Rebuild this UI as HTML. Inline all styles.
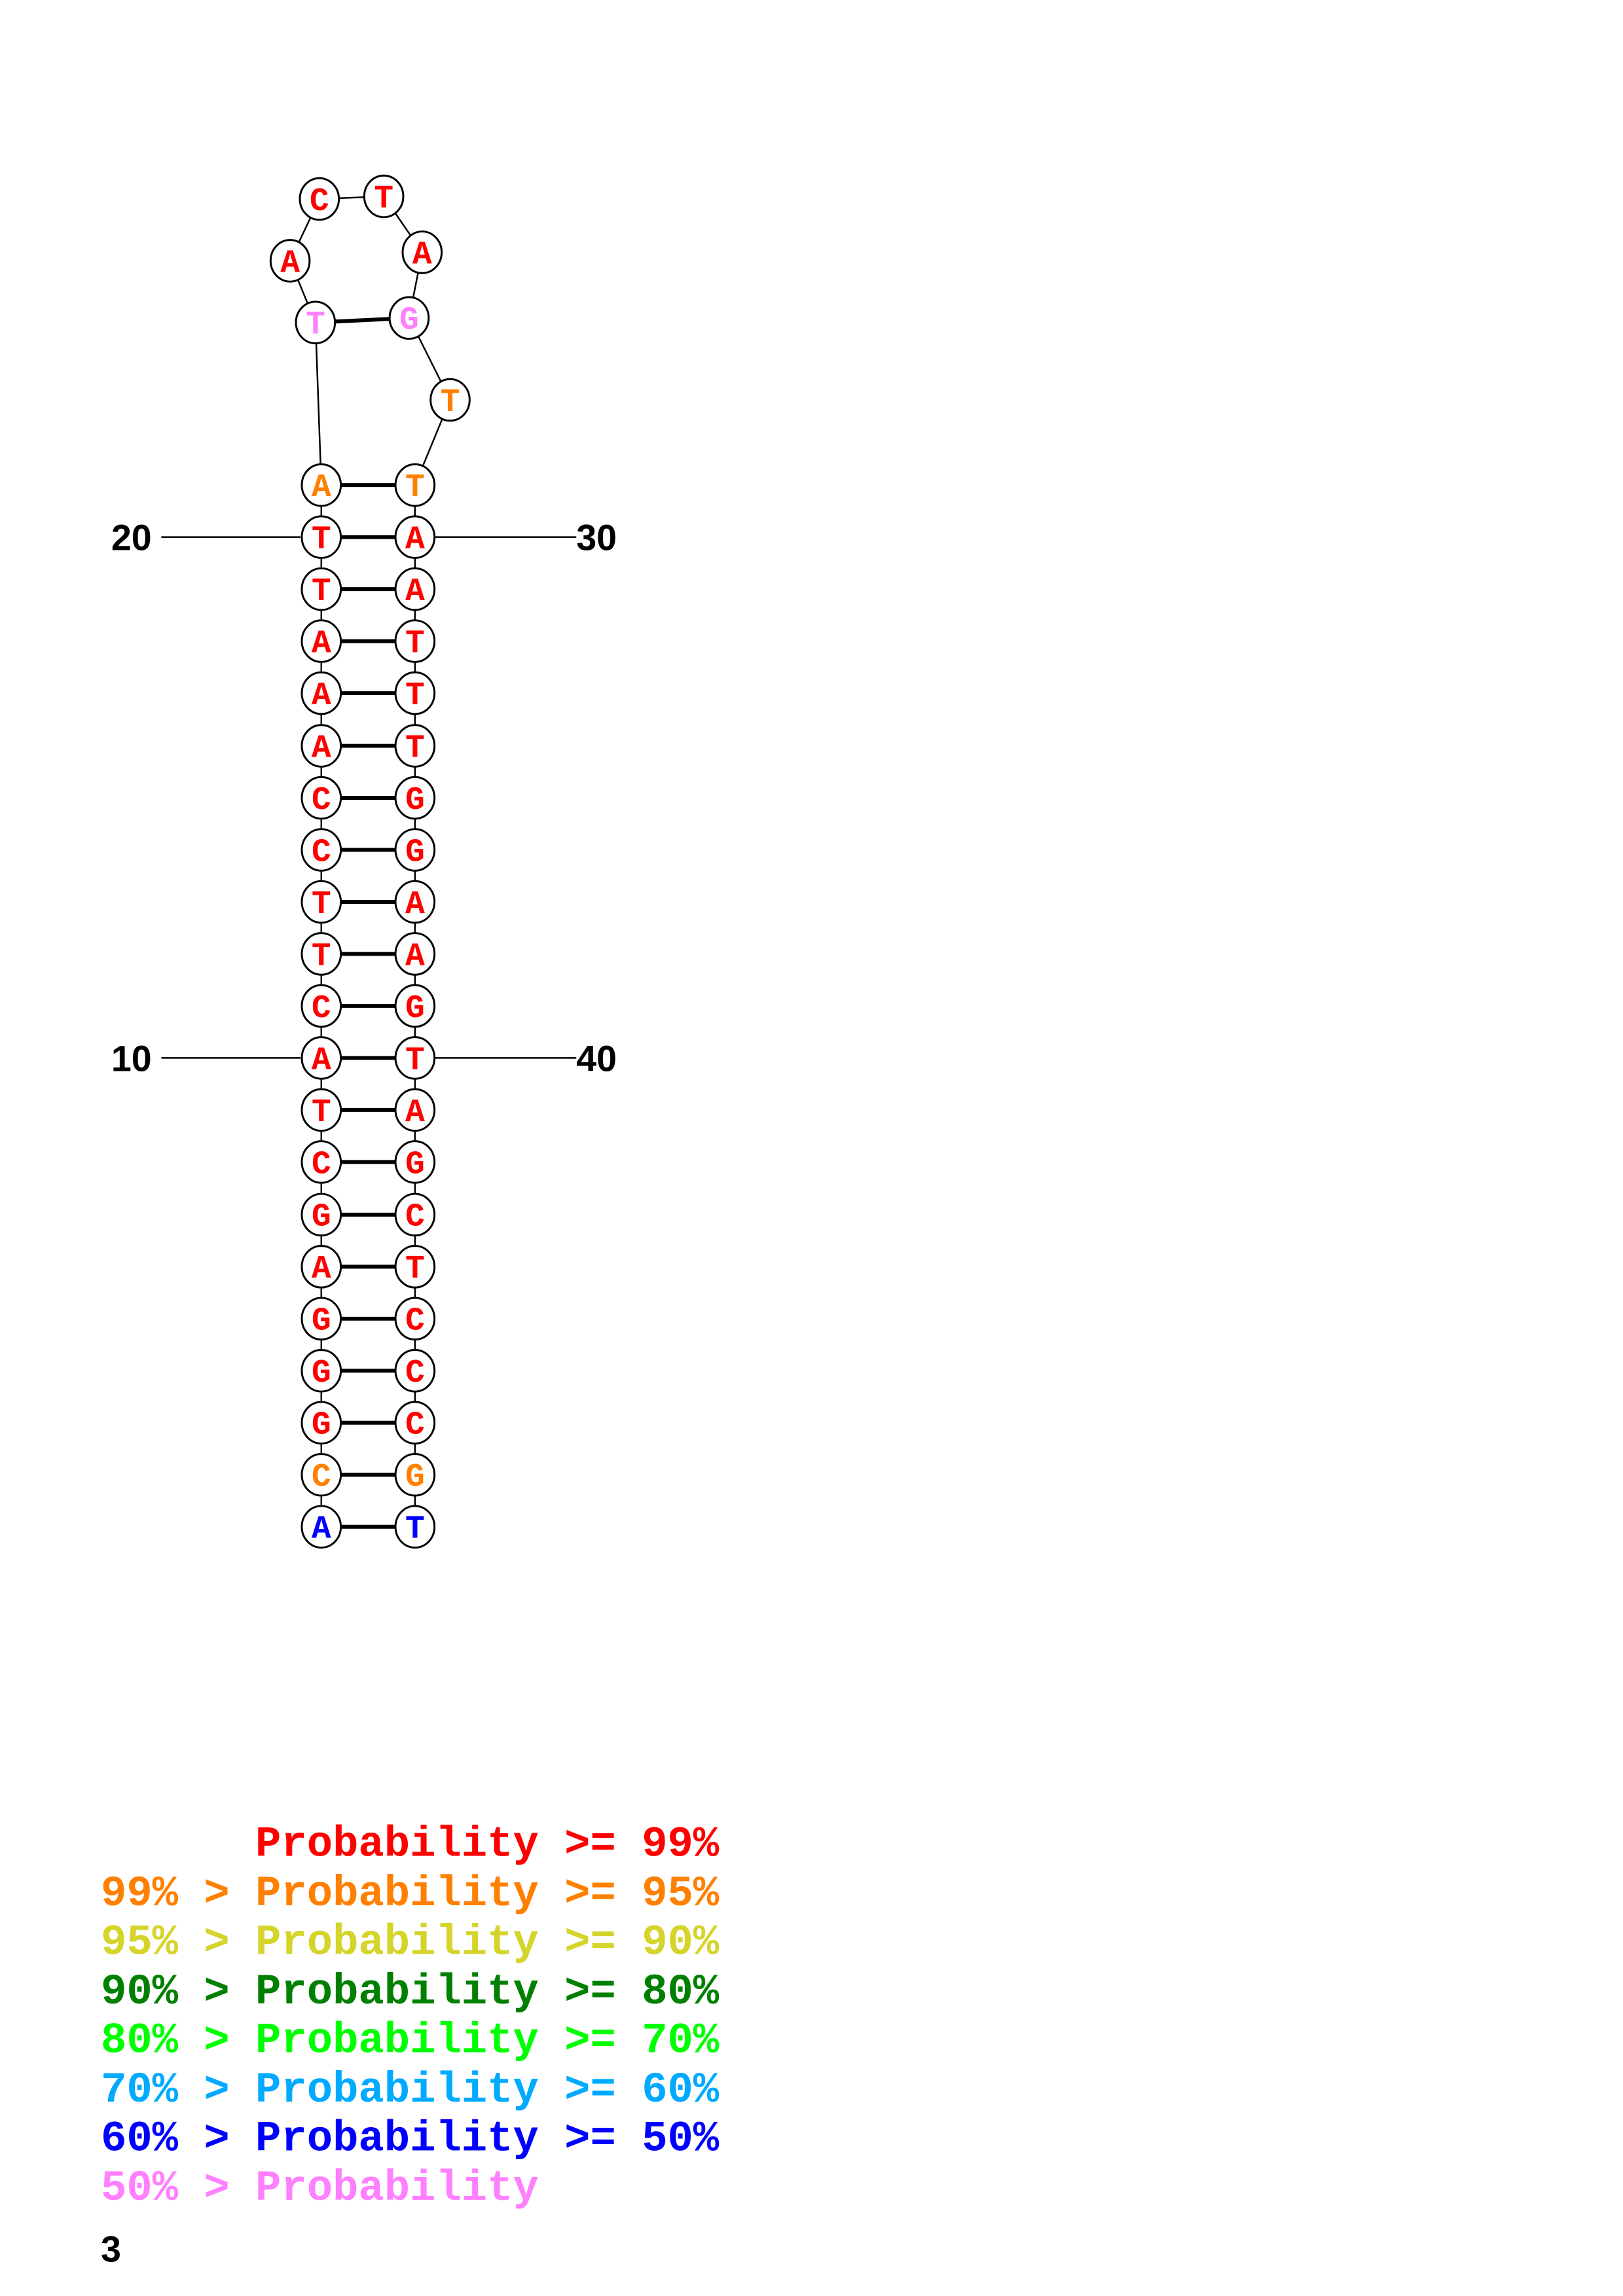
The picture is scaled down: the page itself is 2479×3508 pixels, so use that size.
<!DOCTYPE html>
<html><head><meta charset="utf-8"><style>
html,body{margin:0;padding:0;background:#fff;}
svg{display:block;}
.n{fill:#fff;stroke:#000;stroke-width:3;}
.b{font-family:"Liberation Mono",monospace;font-weight:bold;font-size:50px;text-anchor:middle;}
.lg{font-family:"Liberation Mono",monospace;font-weight:bold;font-size:66px;white-space:pre;}
.num{font-family:"Liberation Sans",sans-serif;font-weight:bold;font-size:56px;}
</style></head><body>
<svg width="2479" height="3508" viewBox="0 0 2479 3508" xmlns="http://www.w3.org/2000/svg">
<g transform="scale(0.9935)">
<g stroke="#000" stroke-width="2.5" fill="none">
<line x1="248" y1="826" x2="462" y2="826"/>
<line x1="669" y1="826" x2="886" y2="826"/>
<line x1="248" y1="1627" x2="462" y2="1627"/>
<line x1="669" y1="1627" x2="886" y2="1627"/>
<line x1="494" y1="746" x2="494" y2="2348"/>
<line x1="638" y1="746" x2="638" y2="2348"/>
<polyline points="494,746 485,496 446,401 491,306 590,302 649,388 629,489 692,615 638,746"/>
</g>
<g stroke="#000" stroke-width="6">
<line x1="485" y1="496" x2="629" y2="489"/>
<line x1="494" y1="746" x2="638" y2="746"/><line x1="494" y1="826" x2="638" y2="826"/>
<line x1="494" y1="906" x2="638" y2="906"/><line x1="494" y1="986" x2="638" y2="986"/>
<line x1="494" y1="1066" x2="638" y2="1066"/><line x1="494" y1="1147" x2="638" y2="1147"/>
<line x1="494" y1="1227" x2="638" y2="1227"/><line x1="494" y1="1307" x2="638" y2="1307"/>
<line x1="494" y1="1387" x2="638" y2="1387"/><line x1="494" y1="1467" x2="638" y2="1467"/>
<line x1="494" y1="1547" x2="638" y2="1547"/><line x1="494" y1="1627" x2="638" y2="1627"/>
<line x1="494" y1="1707" x2="638" y2="1707"/><line x1="494" y1="1787" x2="638" y2="1787"/>
<line x1="494" y1="1868" x2="638" y2="1868"/><line x1="494" y1="1948" x2="638" y2="1948"/>
<line x1="494" y1="2028" x2="638" y2="2028"/><line x1="494" y1="2108" x2="638" y2="2108"/>
<line x1="494" y1="2188" x2="638" y2="2188"/><line x1="494" y1="2268" x2="638" y2="2268"/>
<line x1="494" y1="2348" x2="638" y2="2348"/>
</g>
<g>
<ellipse class="n" cx="491" cy="306" rx="30" ry="32"/><text class="b" x="491" y="323" fill="#f00">C</text>
<ellipse class="n" cx="590" cy="302" rx="30" ry="32"/><text class="b" x="590" y="319" fill="#f00">T</text>
<ellipse class="n" cx="446" cy="401" rx="30" ry="32"/><text class="b" x="446" y="418" fill="#f00">A</text>
<ellipse class="n" cx="649" cy="388" rx="30" ry="32"/><text class="b" x="649" y="405" fill="#f00">A</text>
<ellipse class="n" cx="485" cy="496" rx="30" ry="32"/><text class="b" x="485" y="513" fill="#ff80ff">T</text>
<ellipse class="n" cx="629" cy="489" rx="30" ry="32"/><text class="b" x="629" y="506" fill="#ff80ff">G</text>
<ellipse class="n" cx="692" cy="615" rx="30" ry="32"/><text class="b" x="692" y="632" fill="#ff8000">T</text>
</g>
<g>
<ellipse class="n" cx="494" cy="746" rx="30" ry="32"/><text class="b" x="494" y="763" fill="#ff8000">A</text>
<ellipse class="n" cx="494" cy="826" rx="30" ry="32"/><text class="b" x="494" y="843" fill="#f00">T</text>
<ellipse class="n" cx="494" cy="906" rx="30" ry="32"/><text class="b" x="494" y="923" fill="#f00">T</text>
<ellipse class="n" cx="494" cy="986" rx="30" ry="32"/><text class="b" x="494" y="1003" fill="#f00">A</text>
<ellipse class="n" cx="494" cy="1066" rx="30" ry="32"/><text class="b" x="494" y="1083" fill="#f00">A</text>
<ellipse class="n" cx="494" cy="1147" rx="30" ry="32"/><text class="b" x="494" y="1164" fill="#f00">A</text>
<ellipse class="n" cx="494" cy="1227" rx="30" ry="32"/><text class="b" x="494" y="1244" fill="#f00">C</text>
<ellipse class="n" cx="494" cy="1307" rx="30" ry="32"/><text class="b" x="494" y="1324" fill="#f00">C</text>
<ellipse class="n" cx="494" cy="1387" rx="30" ry="32"/><text class="b" x="494" y="1404" fill="#f00">T</text>
<ellipse class="n" cx="494" cy="1467" rx="30" ry="32"/><text class="b" x="494" y="1484" fill="#f00">T</text>
<ellipse class="n" cx="494" cy="1547" rx="30" ry="32"/><text class="b" x="494" y="1564" fill="#f00">C</text>
<ellipse class="n" cx="494" cy="1627" rx="30" ry="32"/><text class="b" x="494" y="1644" fill="#f00">A</text>
<ellipse class="n" cx="494" cy="1707" rx="30" ry="32"/><text class="b" x="494" y="1724" fill="#f00">T</text>
<ellipse class="n" cx="494" cy="1787" rx="30" ry="32"/><text class="b" x="494" y="1804" fill="#f00">C</text>
<ellipse class="n" cx="494" cy="1868" rx="30" ry="32"/><text class="b" x="494" y="1885" fill="#f00">G</text>
<ellipse class="n" cx="494" cy="1948" rx="30" ry="32"/><text class="b" x="494" y="1965" fill="#f00">A</text>
<ellipse class="n" cx="494" cy="2028" rx="30" ry="32"/><text class="b" x="494" y="2045" fill="#f00">G</text>
<ellipse class="n" cx="494" cy="2108" rx="30" ry="32"/><text class="b" x="494" y="2125" fill="#f00">G</text>
<ellipse class="n" cx="494" cy="2188" rx="30" ry="32"/><text class="b" x="494" y="2205" fill="#f00">G</text>
<ellipse class="n" cx="494" cy="2268" rx="30" ry="32"/><text class="b" x="494" y="2285" fill="#ff8000">C</text>
<ellipse class="n" cx="494" cy="2348" rx="30" ry="32"/><text class="b" x="494" y="2365" fill="#00f">A</text>
</g>
<g>
<ellipse class="n" cx="638" cy="746" rx="30" ry="32"/><text class="b" x="638" y="763" fill="#ff8000">T</text>
<ellipse class="n" cx="638" cy="826" rx="30" ry="32"/><text class="b" x="638" y="843" fill="#f00">A</text>
<ellipse class="n" cx="638" cy="906" rx="30" ry="32"/><text class="b" x="638" y="923" fill="#f00">A</text>
<ellipse class="n" cx="638" cy="986" rx="30" ry="32"/><text class="b" x="638" y="1003" fill="#f00">T</text>
<ellipse class="n" cx="638" cy="1066" rx="30" ry="32"/><text class="b" x="638" y="1083" fill="#f00">T</text>
<ellipse class="n" cx="638" cy="1147" rx="30" ry="32"/><text class="b" x="638" y="1164" fill="#f00">T</text>
<ellipse class="n" cx="638" cy="1227" rx="30" ry="32"/><text class="b" x="638" y="1244" fill="#f00">G</text>
<ellipse class="n" cx="638" cy="1307" rx="30" ry="32"/><text class="b" x="638" y="1324" fill="#f00">G</text>
<ellipse class="n" cx="638" cy="1387" rx="30" ry="32"/><text class="b" x="638" y="1404" fill="#f00">A</text>
<ellipse class="n" cx="638" cy="1467" rx="30" ry="32"/><text class="b" x="638" y="1484" fill="#f00">A</text>
<ellipse class="n" cx="638" cy="1547" rx="30" ry="32"/><text class="b" x="638" y="1564" fill="#f00">G</text>
<ellipse class="n" cx="638" cy="1627" rx="30" ry="32"/><text class="b" x="638" y="1644" fill="#f00">T</text>
<ellipse class="n" cx="638" cy="1707" rx="30" ry="32"/><text class="b" x="638" y="1724" fill="#f00">A</text>
<ellipse class="n" cx="638" cy="1787" rx="30" ry="32"/><text class="b" x="638" y="1804" fill="#f00">G</text>
<ellipse class="n" cx="638" cy="1868" rx="30" ry="32"/><text class="b" x="638" y="1885" fill="#f00">C</text>
<ellipse class="n" cx="638" cy="1948" rx="30" ry="32"/><text class="b" x="638" y="1965" fill="#f00">T</text>
<ellipse class="n" cx="638" cy="2028" rx="30" ry="32"/><text class="b" x="638" y="2045" fill="#f00">C</text>
<ellipse class="n" cx="638" cy="2108" rx="30" ry="32"/><text class="b" x="638" y="2125" fill="#f00">C</text>
<ellipse class="n" cx="638" cy="2188" rx="30" ry="32"/><text class="b" x="638" y="2205" fill="#f00">C</text>
<ellipse class="n" cx="638" cy="2268" rx="30" ry="32"/><text class="b" x="638" y="2285" fill="#ff8000">G</text>
<ellipse class="n" cx="638" cy="2348" rx="30" ry="32"/><text class="b" x="638" y="2365" fill="#00f">T</text>
</g>
<text class="num" x="171" y="846">20</text>
<text class="num" x="886" y="846">30</text>
<text class="num" x="171" y="1647">10</text>
<text class="num" x="886" y="1647">40</text>
<text class="lg" x="155" y="2854" fill="#ff0000">      Probability &gt;= 99%</text>
<text class="lg" x="155" y="2930" fill="#ff8000">99% &gt; Probability &gt;= 95%</text>
<text class="lg" x="155" y="3005" fill="#d4d42a">95% &gt; Probability &gt;= 90%</text>
<text class="lg" x="155" y="3081" fill="#008000">90% &gt; Probability &gt;= 80%</text>
<text class="lg" x="155" y="3156" fill="#00ff00">80% &gt; Probability &gt;= 70%</text>
<text class="lg" x="155" y="3232" fill="#00aaff">70% &gt; Probability &gt;= 60%</text>
<text class="lg" x="155" y="3307" fill="#0000ff">60% &gt; Probability &gt;= 50%</text>
<text class="lg" x="155" y="3383" fill="#ff80ff">50% &gt; Probability</text>
<text class="num" x="155" y="3478" fill="#000">3</text>
</g>
</svg>
</body></html>
